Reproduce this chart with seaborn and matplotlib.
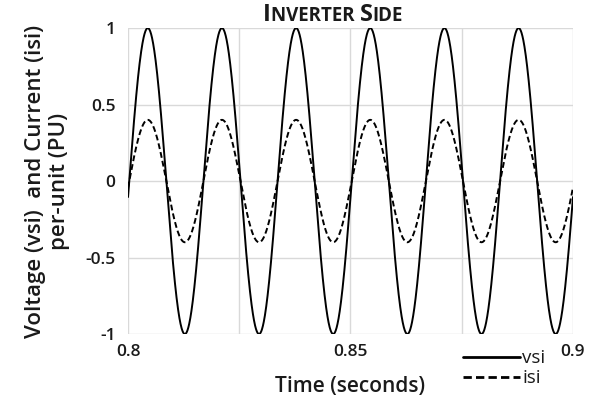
import numpy as np
import pandas as pd
import seaborn as sns
import matplotlib
matplotlib.use("Agg")
import matplotlib.pyplot as plt
from matplotlib.lines import Line2D
from matplotlib.offsetbox import TextArea, HPacker, AnchoredOffsetbox

# Measured waveform parameters (inverter side, per-unit)
t_start, t_end = 0.80, 0.90
frequency_hz = 60.0
phase_deg = -6.0
vsi_amplitude = 1.0
isi_amplitude = 0.4
series_names = ["vsi", "isi"]

x_ticks = [0.80, 0.825, 0.85, 0.875, 0.90]
x_tick_labels = ["0.8", "", "0.85", "", "0.9"]
y_ticks = [-1, -0.5, 0, 0.5, 1]
y_tick_labels = ["-1", "-0.5", "0", "0.5", "1"]

t = np.linspace(t_start, t_end, 2000)
omega_phase = 2 * np.pi * frequency_hz * t + np.deg2rad(phase_deg)
df = pd.concat([
    pd.DataFrame({"time": t, "value": vsi_amplitude * np.sin(omega_phase), "signal": series_names[0]}),
    pd.DataFrame({"time": t, "value": isi_amplitude * np.sin(omega_phase), "signal": series_names[1]}),
])

FONT = ["Open Sans", "DejaVu Sans"]
sns.set_theme(style="white")
plt.rcParams["font.family"] = FONT

fig = plt.figure(figsize=(5.91, 4.01), dpi=100)
ax = fig.add_axes([0.2166, 0.167, 0.9695 - 0.2166, 0.930 - 0.167])

sns.lineplot(data=df, x="time", y="value", hue="signal", style="signal",
             palette={"vsi": "black", "isi": "black"},
             dashes={"vsi": "", "isi": (3, 1.6)}, linewidth=1.4,
             legend=False, ax=ax, sort=False, estimator=None)

ax.set_xlim(t_start, t_end)
ax.set_ylim(-1, 1)
ax.set_xticks(x_ticks)
ax.set_xticklabels(x_tick_labels)
ax.set_yticks(y_ticks)
ax.set_yticklabels(y_tick_labels)
ax.grid(True, color="#d9d9d9", linewidth=1.0)
ax.set_axisbelow(True)
for s in ax.spines.values():
    s.set_visible(False)
ax.tick_params(axis="both", length=0, labelsize=12.5, colors="#1a1a1a")
ax.tick_params(axis="x", pad=7)
ax.tick_params(axis="y", pad=9)
for lab in ax.get_xticklabels() + ax.get_yticklabels():
    lab.set_fontweight("semibold")

ax.set_xlabel("Time (seconds)", fontsize=15, fontweight="semibold", labelpad=12, color="#1a1a1a")
ax.set_ylabel("Voltage (vsi)  and Current (isi)\nper-unit (PU)", fontsize=16,
              fontweight="semibold", labelpad=11, color="#1a1a1a", linespacing=1.2)

# Small-caps style title
parts = [("I", 17), ("NVERTER ", 13.5), ("S", 17), ("IDE", 13.5)]
boxes = [TextArea(txt, textprops=dict(fontsize=fs, fontweight="bold", color="#1a1a1a",
                                      family=FONT))
         for txt, fs in parts]
title_pack = HPacker(children=boxes, align="baseline", pad=0, sep=0)
title_box = AnchoredOffsetbox(loc="lower center", child=title_pack, pad=0, borderpad=0,
                              frameon=False, bbox_to_anchor=(333 / 591, 1 - 27 / 401),
                              bbox_transform=fig.transFigure)
fig.add_artist(title_box)

handles = [Line2D([], [], color="black", linewidth=2.0, linestyle="-"),
           Line2D([], [], color="black", linewidth=2.0, linestyle=(0, (3, 1.5)))]
fig.legend(handles, series_names, loc="upper left", bbox_to_anchor=(454 / 591, 1 - 340 / 401),
           frameon=False, fontsize=13.5, handlelength=3.0, handletextpad=0.15,
           labelspacing=0.1, borderpad=0, labelcolor="#1a1a1a")

fig.savefig("out.png", dpi=100)
